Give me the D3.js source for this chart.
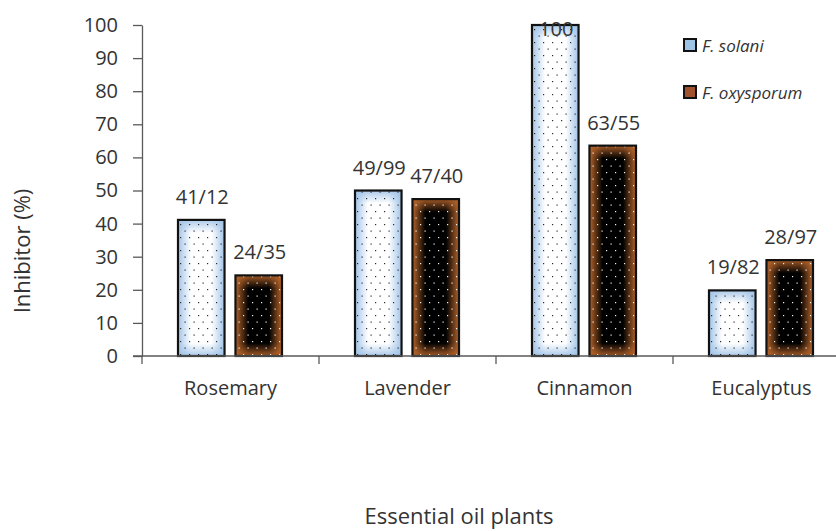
<!DOCTYPE html>
<html>
<head>
<meta charset="utf-8">
<script src="https://cdn.jsdelivr.net/npm/d3@7"></script>
<style>
  html, body { margin: 0; padding: 0; background: #fff; }
  svg { display: block; }
  text { font-family: "Open Sans", "Noto Sans", sans-serif; fill: #333; }
</style>
</head>
<body>
<svg id="chart" width="836" height="531"></svg>
<script>
// Inhibition of two Fusarium species by essential oils
const plants = ["Rosemary", "Lavender", "Cinnamon", "Eucalyptus"];
const seriesNames = ["F. solani", "F. oxysporum"];
const solaniValues = [41.12, 49.99, 100, 19.82];
const oxysporumValues = [24.35, 47.40, 63.55, 28.97];
// value labels as printed on the chart
const solaniLabels = ["41/12", "49/99", "100", "19/82"];
const oxysporumLabels = ["24/35", "47/40", "63/55", "28/97"];
const yTicks = [0, 10, 20, 30, 40, 50, 60, 70, 80, 90, 100];

const svg = d3.select("#chart");
const margin = { left: 142, top: 25, bottom: 175 };
const plotBottom = 531 - margin.bottom; // 356

const x = d3.scaleBand().domain(plants).range([142, 850]).paddingInner(0).paddingOuter(0);
const y = d3.scaleLinear().domain([0, 100]).range([plotBottom, margin.top]);
const sub = d3.scaleBand().domain(seriesNames).range([36, 36 + 104]).paddingInner(0.19);

const rows = plants.map((p, i) => ({
  plant: p,
  bars: [
    { s: 0, name: seriesNames[0], v: solaniValues[i], label: solaniLabels[i] },
    { s: 1, name: seriesNames[1], v: oxysporumValues[i], label: oxysporumLabels[i] }
  ]
}));

const defs = svg.append("defs");

// dotted overlays
function dotPattern(id, color) {
  const p = defs.append("pattern").attr("id", id)
    .attr("patternUnits", "userSpaceOnUse").attr("width", 9).attr("height", 13);
  p.append("rect").attr("x", 2).attr("y", 3).attr("width", 1.2).attr("height", 1.2).attr("fill", color);
  p.append("rect").attr("x", 6.5).attr("y", 9.5).attr("width", 1.2).attr("height", 1.2).attr("fill", color);
}
dotPattern("dotsDark", "#2b2b2b");
dotPattern("dotsLight", "#f2f2f2");

const palette = [
  { base: "#ffffff", edge: "#a2c4e8", dots: "url(#dotsDark)" },
  { base: "#000000", edge: "#b5642a", dots: "url(#dotsLight)" }
];

// edge glow gradients, sized per bar so the fade is a fixed pixel width
let gid = 0;
function edgeGradient(dir, len, color) {
  const id = "g" + (gid++);
  const g = defs.append("linearGradient").attr("id", id)
    .attr("x1", 0).attr("y1", 0)
    .attr("x2", dir === "h" ? 1 : 0).attr("y2", dir === "h" ? 0 : 1);
  const f = Math.min(0.45, 13 / len);
  g.append("stop").attr("offset", 0).attr("stop-color", color).attr("stop-opacity", 1);
  g.append("stop").attr("offset", f).attr("stop-color", color).attr("stop-opacity", 0);
  g.append("stop").attr("offset", 1 - f).attr("stop-color", color).attr("stop-opacity", 0);
  g.append("stop").attr("offset", 1).attr("stop-color", color).attr("stop-opacity", 1);
  return "url(#" + id + ")";
}

// y axis
const yAxis = d3.axisLeft(y).tickValues(yTicks).tickSize(9).tickSizeOuter(0).tickPadding(15);
const yg = svg.append("g").attr("transform", `translate(${margin.left},0)`).call(yAxis);
yg.select(".domain").attr("stroke", "#595959").attr("stroke-width", 1.3);
yg.selectAll(".tick line").attr("stroke", "#595959").attr("stroke-width", 1.3);
yg.selectAll(".tick text").style("font-size", "20px").attr("fill", "#333");

// groups of bars
const groups = svg.append("g").selectAll("g").data(rows).join("g")
  .attr("transform", d => `translate(${x(d.plant)},0)`);

groups.each(function (d) {
  const g = d3.select(this);
  d.bars.forEach(b => {
    const bx = sub(b.name), bw = sub.bandwidth();
    const by = y(b.v), bh = plotBottom - y(b.v);
    const pal = palette[b.s];
    g.append("rect").attr("x", bx).attr("y", by).attr("width", bw).attr("height", bh).attr("fill", pal.base);
    g.append("rect").attr("x", bx).attr("y", by).attr("width", bw).attr("height", bh).attr("fill", edgeGradient("h", bw, pal.edge));
    g.append("rect").attr("x", bx).attr("y", by).attr("width", bw).attr("height", bh).attr("fill", edgeGradient("v", bh, pal.edge)).attr("opacity", 0.9);
    g.append("rect").attr("x", bx).attr("y", by).attr("width", bw).attr("height", bh).attr("fill", pal.dots);
    g.append("rect").attr("x", bx).attr("y", by).attr("width", bw).attr("height", bh)
      .attr("fill", "none").attr("stroke", "#111").attr("stroke-width", 2.2);
  });
});

// value labels sit above each bar; the full-height bar keeps its label inside the plot
const labelGap = 16;
const labelTopLimit = 36;
groups.each(function (d) {
  const g = d3.select(this);
  d.bars.forEach(b => {
    const cx = sub(b.name) + sub.bandwidth() / 2;
    g.append("text")
      .attr("x", cx + 1)
      .attr("y", Math.max(labelTopLimit, y(b.v) - labelGap))
      .attr("text-anchor", "middle")
      .style("font-size", "20px")
      .text(b.label);
  });
});

// x axis
const xAxis = d3.axisBottom(x).tickSize(0);
const xg = svg.append("g").attr("transform", `translate(0,${plotBottom})`).call(xAxis);
xg.select(".domain").remove();
xg.selectAll(".tick text").attr("y", 39).attr("dy", 0).style("font-size", "20px").attr("fill", "#333");
svg.append("line").attr("x1", 133).attr("x2", 836).attr("y1", plotBottom).attr("y2", plotBottom)
  .attr("stroke", "#595959").attr("stroke-width", 1.3);
svg.append("g").selectAll("line").data(d3.range(plants.length + 1)).join("line")
  .attr("x1", i => 142 + i * x.step()).attr("x2", i => 142 + i * x.step())
  .attr("y1", plotBottom).attr("y2", plotBottom + 8)
  .attr("stroke", "#595959").attr("stroke-width", 1.3);

// axis titles
svg.append("text")
  .attr("transform", "translate(30,251) rotate(-90)")
  .attr("text-anchor", "middle")
  .style("font-size", "22px")
  .text("Inhibitor (%)");
svg.append("text")
  .attr("x", 459).attr("y", 524)
  .attr("text-anchor", "middle")
  .style("font-size", "22px")
  .text("Essential oil plants");

// legend
const legendColors = ["#9dc3e6", "#a0522d"];
const lg = svg.append("g").selectAll("g").data(seriesNames).join("g")
  .attr("transform", (d, i) => `translate(684,${39 + i * 47})`);
lg.append("rect").attr("width", 12).attr("height", 12)
  .attr("fill", (d, i) => legendColors[i]).attr("stroke", "#111").attr("stroke-width", 2);
lg.append("text").attr("x", 18).attr("y", 13)
  .style("font-size", "17px").style("font-style", "italic")
  .text(d => d);
</script>
</body>
</html>
